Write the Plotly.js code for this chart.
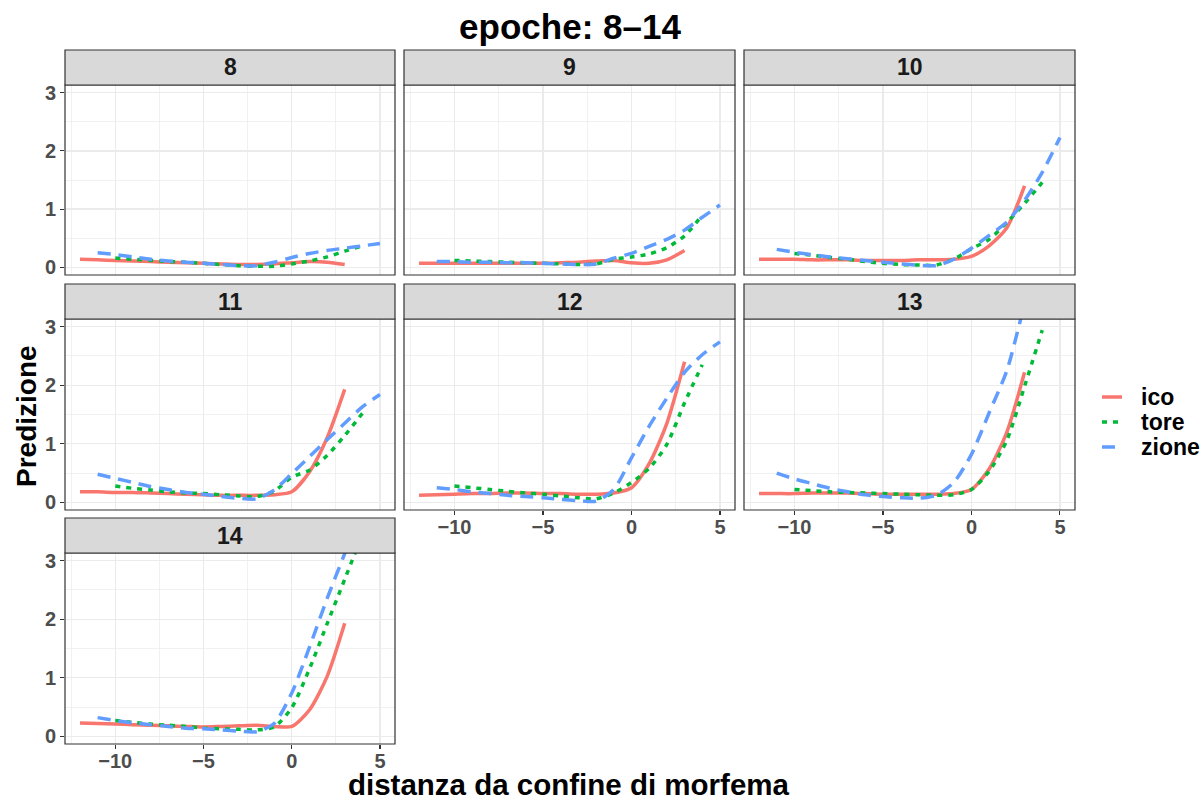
<!DOCTYPE html>
<html>
<head>
<meta charset="utf-8">
<script src="https://cdn.plot.ly/plotly-3.0.1.min.js"></script>
<style>html,body{margin:0;padding:0;background:#fff;}#chart{width:1201px;height:800px;}</style>
</head>
<body>
<div id="chart"></div>
<script>
// ---------- data ----------
const epochs = ['8', '9', '10', '11', '12', '13', '14'];
const seriesNames = ['ico', 'tore', 'zione'];

const x_ico   = [-12, -11, -10, -9, -8, -7, -6, -5, -4, -3, -2, -1, 0, 1, 2, 3];
const x_tore  = [-10, -9, -8, -7, -6, -5, -4, -3, -2, -1, 0, 1, 2, 3, 4];
const x_zione = [-11, -10, -9, -8, -7, -6, -5, -4, -3, -2, -1, 0, 1, 2, 3, 4, 5];

const ico_8  = [0.14, 0.13, 0.12, 0.11, 0.10, 0.09, 0.08, 0.07, 0.06, 0.05, 0.05, 0.06, 0.08, 0.10, 0.09, 0.05];
const ico_9  = [0.07, 0.07, 0.07, 0.07, 0.07, 0.07, 0.07, 0.07, 0.08, 0.09, 0.11, 0.12, 0.08, 0.07, 0.13, 0.29];
const ico_10 = [0.14, 0.14, 0.14, 0.13, 0.13, 0.13, 0.12, 0.12, 0.12, 0.13, 0.13, 0.14, 0.19, 0.37, 0.68, 1.40];
const ico_11 = [0.18, 0.18, 0.17, 0.17, 0.16, 0.15, 0.14, 0.13, 0.12, 0.12, 0.12, 0.13, 0.18, 0.52, 1.10, 1.93];
const ico_12 = [0.12, 0.13, 0.14, 0.15, 0.15, 0.16, 0.16, 0.15, 0.15, 0.14, 0.14, 0.16, 0.25, 0.66, 1.35, 2.40];
const ico_13 = [0.15, 0.15, 0.15, 0.16, 0.16, 0.16, 0.15, 0.14, 0.14, 0.14, 0.14, 0.15, 0.22, 0.57, 1.20, 2.22];
const ico_14 = [0.23, 0.22, 0.21, 0.20, 0.19, 0.18, 0.17, 0.16, 0.17, 0.18, 0.19, 0.17, 0.17, 0.45, 1.02, 1.93];

const tore_8  = [0.16, 0.14, 0.12, 0.10, 0.09, 0.07, 0.05, 0.03, 0.02, 0.02, 0.06, 0.11, 0.18, 0.28, 0.37];
const tore_9  = [0.12, 0.11, 0.10, 0.09, 0.08, 0.07, 0.06, 0.05, 0.06, 0.14, 0.18, 0.23, 0.34, 0.54, 0.90];
const tore_10 = [0.24, 0.21, 0.17, 0.14, 0.10, 0.07, 0.05, 0.04, 0.04, 0.14, 0.32, 0.48, 0.77, 1.10, 1.46];
const tore_11 = [0.28, 0.24, 0.21, 0.18, 0.16, 0.15, 0.13, 0.11, 0.10, 0.19, 0.43, 0.55, 0.80, 1.14, 1.52];
const tore_12 = [0.28, 0.25, 0.22, 0.19, 0.16, 0.14, 0.11, 0.08, 0.06, 0.16, 0.34, 0.58, 0.99, 1.70, 2.35];
const tore_13 = [0.22, 0.20, 0.18, 0.17, 0.16, 0.15, 0.14, 0.13, 0.12, 0.13, 0.22, 0.53, 1.06, 1.98, 2.94];
const tore_14 = [0.27, 0.24, 0.21, 0.19, 0.17, 0.14, 0.13, 0.12, 0.11, 0.16, 0.49, 1.15, 1.92, 2.68, 3.45];

const zione_8  = [0.25, 0.22, 0.18, 0.14, 0.11, 0.09, 0.07, 0.05, 0.03, 0.03, 0.09, 0.17, 0.24, 0.29, 0.33, 0.37, 0.41];
const zione_9  = [0.10, 0.10, 0.09, 0.09, 0.08, 0.08, 0.07, 0.06, 0.05, 0.06, 0.16, 0.24, 0.36, 0.48, 0.64, 0.86, 1.07];
const zione_10 = [0.31, 0.26, 0.22, 0.18, 0.15, 0.12, 0.09, 0.06, 0.04, 0.03, 0.14, 0.33, 0.55, 0.78, 1.15, 1.63, 2.23];
const zione_11 = [0.48, 0.41, 0.34, 0.27, 0.22, 0.17, 0.14, 0.10, 0.07, 0.06, 0.21, 0.49, 0.78, 1.07, 1.35, 1.63, 1.84];
const zione_12 = [0.25, 0.22, 0.18, 0.15, 0.12, 0.10, 0.08, 0.05, 0.03, 0.02, 0.22, 0.76, 1.30, 1.78, 2.22, 2.52, 2.74];
const zione_13 = [0.50, 0.40, 0.32, 0.24, 0.18, 0.13, 0.10, 0.08, 0.07, 0.12, 0.34, 0.82, 1.53, 2.25, 3.40, null, null];
const zione_14 = [0.32, 0.27, 0.23, 0.20, 0.17, 0.14, 0.13, 0.11, 0.09, 0.08, 0.22, 0.74, 1.52, 2.35, 3.12, 3.90, null];

const xTickVals = [-10, -5, 0, 5];
const yTickVals = [0, 1, 2, 3];

// ---------- styling ----------
const FONT = 'Liberation Sans, Arial, Helvetica, sans-serif';
const W = 1201, H = 800;
const colors = {ico: '#F8766D', tore: '#00BA38', zione: '#619CFF'};
const dashes = {ico: 'solid', tore: '5px,6px', zione: '13px,8px'};
const xs = {ico: x_ico, tore: x_tore, zione: x_zione};
const ys = {
  ico:   [ico_8, ico_9, ico_10, ico_11, ico_12, ico_13, ico_14],
  tore:  [tore_8, tore_9, tore_10, tore_11, tore_12, tore_13, tore_14],
  zione: [zione_8, zione_9, zione_10, zione_11, zione_12, zione_13, zione_14]
};
const LW = 3.5;

// panel pixel geometry
const colPx = [[65, 395], [404, 735], [744, 1075]];
const rowPx = [[85, 275], [319, 510], [553, 744]]; // plot area top/bottom
const stripH = 35;

const traces = [];
const layout = {
  width: W, height: H,
  margin: {l: 0, r: 0, t: 0, b: 0},
  paper_bgcolor: '#fff', plot_bgcolor: '#fff',
  font: {family: FONT},
  showlegend: false,
  title: {
    text: 'epoche: 8–14', x: 570 / W, xanchor: 'center', y: 1 - 27 / H, yanchor: 'middle',
    font: {family: FONT, size: 35, color: '#000', weight: 'bold'}
  },
  shapes: [], annotations: []
};

epochs.forEach((ep, i) => {
  const r = Math.floor(i / 3), c = i % 3;
  const sfx = i === 0 ? '' : String(i + 1);
  const bottomAxis = (i >= 4); // panels 12, 13, 14
  const leftAxis = (c === 0);
  const [x0, x1] = colPx[c];
  const [y0, y1] = rowPx[r];

  layout['xaxis' + sfx] = {
    domain: [x0 / W, x1 / W], anchor: 'y' + sfx,
    range: [-12.85, 5.85], tickvals: xTickVals, ticktext: xTickVals.map(v => v < 0 ? '\u2212' + Math.abs(v) : String(v)),
    showticklabels: bottomAxis, ticks: bottomAxis ? 'outside' : '', ticklen: 4, tickwidth: 1.1, tickcolor: '#333333',
    ticklabelstandoff: -5,
    tickfont: {family: FONT, size: 20, color: '#4D4D4D', weight: 'bold'},
    showgrid: true, gridcolor: '#EBEBEB', gridwidth: 1.4,
    minor: {tick0: -12.5, dtick: 5, showgrid: true, gridcolor: '#EBEBEB', gridwidth: 0.7},
    zeroline: false, showline: false, fixedrange: true
  };
  layout['yaxis' + sfx] = {
    domain: [1 - y1 / H, 1 - y0 / H], anchor: 'x' + sfx,
    range: [-0.13, 3.13], tickvals: yTickVals,
    showticklabels: leftAxis, ticks: leftAxis ? 'outside' : '', ticklen: 4, tickwidth: 1.1, tickcolor: '#333333',
    tickfont: {family: FONT, size: 20, color: '#4D4D4D', weight: 'bold'},
    showgrid: true, gridcolor: '#EBEBEB', gridwidth: 1.4,
    minor: {tick0: 0.5, dtick: 1, showgrid: true, gridcolor: '#EBEBEB', gridwidth: 0.7},
    zeroline: false, showline: false, fixedrange: true
  };

  seriesNames.forEach(s => {
    traces.push({
      type: 'scatter', mode: 'lines',
      x: xs[s], y: ys[s][i],
      xaxis: 'x' + sfx, yaxis: 'y' + sfx,
      name: s, legendgroup: s, showlegend: false,
      line: {color: colors[s], width: LW, dash: dashes[s], shape: 'spline', smoothing: 0.7},
      connectgaps: false, hoverinfo: 'skip'
    });
  });

  // panel border
  layout.shapes.push({
    type: 'rect', xref: 'paper', yref: 'paper',
    x0: x0 / W, x1: x1 / W, y0: 1 - y1 / H, y1: 1 - y0 / H,
    line: {color: '#333333', width: 1.2}, fillcolor: 'rgba(0,0,0,0)', layer: 'above'
  });
  // strip
  layout.shapes.push({
    type: 'rect', xref: 'paper', yref: 'paper',
    x0: x0 / W, x1: x1 / W, y0: 1 - y0 / H, y1: 1 - (y0 - stripH) / H,
    line: {color: '#333333', width: 1.2}, fillcolor: '#D9D9D9', layer: 'above'
  });
  layout.annotations.push({
    xref: 'paper', yref: 'paper', x: (x0 + x1) / 2 / W, y: 1 - (y0 - stripH / 2) / H,
    xanchor: 'center', yanchor: 'middle', showarrow: false, text: ep,
    font: {family: FONT, size: 23, color: '#1A1A1A', weight: 'bold'}
  });
});

// legend (drawn as key lines + labels)
const legendY = [397, 422, 447];
seriesNames.forEach((s, k) => {
  layout.shapes.push({
    type: 'line', xref: 'paper', yref: 'paper',
    x0: 1102 / W, x1: 1122 / W, y0: 1 - legendY[k] / H, y1: 1 - legendY[k] / H,
    line: {color: colors[s], width: LW, dash: dashes[s]}
  });
  layout.annotations.push({
    xref: 'paper', yref: 'paper', x: 1139 / W, y: 1 - legendY[k] / H,
    xanchor: 'left', yanchor: 'middle', showarrow: false, text: s,
    font: {family: FONT, size: 23, color: '#000', weight: 'bold'}
  });
});

// axis titles
layout.annotations.push({
  xref: 'paper', yref: 'paper', x: 569 / W, y: 1 - 784 / H, xanchor: 'center', yanchor: 'middle',
  showarrow: false, text: 'distanza da confine di morfema',
  font: {family: FONT, size: 29.5, color: '#000', weight: 'bold'}
});
layout.annotations.push({
  xref: 'paper', yref: 'paper', x: 26 / W, y: 1 - 416 / H, xanchor: 'center', yanchor: 'middle',
  showarrow: false, text: 'Predizione', textangle: -90,
  font: {family: FONT, size: 28, color: '#000', weight: 'bold'}
});

Plotly.newPlot('chart', traces, layout, {staticPlot: true, displayModeBar: false});
</script>
</body>
</html>
